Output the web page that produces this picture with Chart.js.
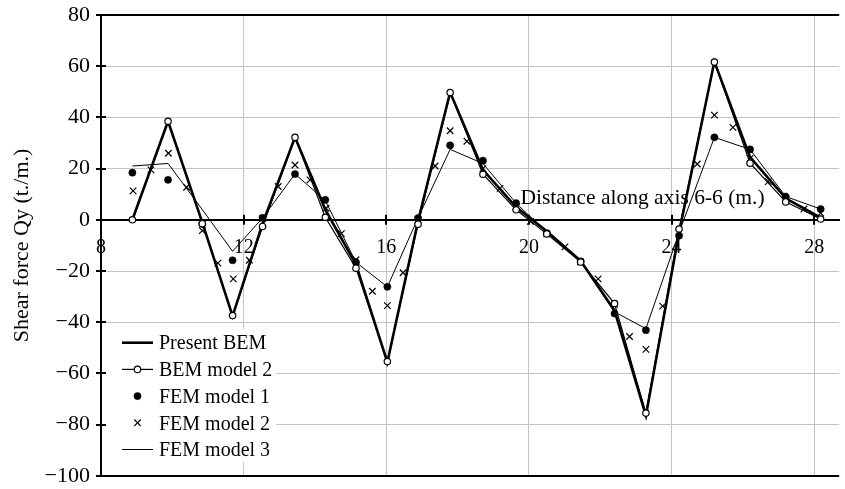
<!DOCTYPE html>
<html>
<head>
<meta charset="utf-8">
<script src="https://cdn.jsdelivr.net/npm/chart.js@4/dist/chart.umd.min.js"></script>
<style>
  html, body { margin: 0; padding: 0; background: #fff; }
  canvas { display: block; }
</style>
</head>
<body>
<canvas id="chart" width="845" height="489"></canvas>
<script>
// Stations along axis 6-6 (m.)
const stations = [8.88, 9.88, 10.84, 11.69, 12.53, 13.44, 14.29, 15.15, 16.03, 16.89, 17.79,
                  18.71, 19.64, 20.5, 21.45, 22.4, 23.28, 24.21, 25.2, 26.2, 27.2, 28.18];

// Shear force Qy (t./m.) at each station
const presentBEM = [0, 38.5, -1, -37.6, -1.5, 32.2, 4, -17.5, -55.6, -0.5, 49.8,
                    19.5, 5, -4.5, -16, -35.5, -76.5, -5, 61.8, 24.5, 8.4, 0.8];
const bemModel2  = [0, 38.5, -1.5, -37.4, -2.6, 32.2, 1.0, -18.9, -55.4, -1.7, 49.7,
                    17.8, 3.9, -5.5, -16.5, -32.7, -75.5, -3.6, 61.6, 22.1, 7.0, 0.3];
const femModel1  = [18.4, 15.6, -1.6, -15.8, 0.8, 17.9, 7.8, -16.6, -26.2, 0.7, 29.1,
                    23.1, 6.5, -5.2, -16.2, -36.6, -43.1, -6.2, 32.2, 27.5, 9.1, 4.2];
const femModel3  = [21, 22, 4, -12.3, 0.7, 17.9, 7.5, -16.6, -26.2, 0.7, 27.5,
                    22, 6.5, -5, -16, -36, -42.5, -5, 32.2, 27.5, 9.1, 4.2];

// FEM model 2 is sampled at element mid-points as well
const fem2Stations = [8.9, 9.4, 9.89, 10.4, 10.84, 11.28, 11.71, 12.16, 12.53, 12.97,
                      13.44, 13.86, 14.31, 14.74, 15.15, 15.61, 16.03, 16.47, 16.89, 17.37,
                      17.79, 18.26, 18.71, 19.19, 19.64, 20.04, 20.5, 21.01, 21.45, 21.94,
                      22.4, 22.82, 23.28, 23.75, 24.21, 24.72, 25.2, 25.72, 26.2, 26.71,
                      27.2, 27.71, 28.18];
const femModel2 = [11.3, 19.5, 26, 12.7, -4.2, -16.9, -23.1, -15.8, 0.5, 13,
                   21.4, 15.6, 4.5, -5.4, -15.6, -27.9, -33.5, -20.7, 0, 21,
                   34.8, 30.7, 20, 12.3, 5, -0.6, -5.5, -10.6, -16.5, -23.1,
                   -33, -45.6, -50.6, -33.7, -5, 21.8, 40.9, 36.1, 24, 14.9,
                   8, 4.2, 2.6];

const xTicks = [8, 12, 16, 20, 24, 28];
const yTicks = [-100, -80, -60, -40, -20, 0, 20, 40, 60, 80];

const seriesNames = ['Present BEM', 'BEM model 2', 'FEM model 1', 'FEM model 2', 'FEM model 3'];
const axisText = 'Distance along axis 6-6 (m.)';
const yTitle = 'Shear force Qy (t./m.)';

const SERIF = "'Liberation Serif', 'Times New Roman', serif";
Chart.defaults.font.family = SERIF;
Chart.defaults.font.size = 20;
Chart.defaults.color = '#000';

const toPoints = (xs, ys) => xs.map((x, i) => ({ x: x, y: ys[i] }));

// Short tick marks that cross both axes
const crossTicks = {
  id: 'crossTicks',
  afterDatasetsDraw(chart) {
    const { ctx, scales: { x, y } } = chart;
    const ax = x.getPixelForValue(x.min);
    const ay = y.getPixelForValue(0);
    ctx.save();
    ctx.strokeStyle = '#000';
    ctx.lineWidth = 2;
    ctx.beginPath();
    y.ticks.forEach(t => {
      const py = Math.round(y.getPixelForValue(t.value));
      ctx.moveTo(ax - 5, py);
      ctx.lineTo(ax + 5, py);
    });
    x.ticks.forEach(t => {
      if (t.value === x.min) return;
      const px = Math.round(x.getPixelForValue(t.value));
      ctx.moveTo(px, ay - 5);
      ctx.lineTo(px, ay + 5);
    });
    ctx.stroke();
    ctx.restore();
  }
};

// Caption for the distance axis, written just above the zero line
const axisCaption = {
  id: 'axisCaption',
  beforeDatasetsDraw(chart) {
    const { ctx, scales: { x, y } } = chart;
    ctx.save();
    ctx.font = '21.5px ' + SERIF;
    ctx.fillStyle = '#000';
    ctx.textAlign = 'left';
    ctx.textBaseline = 'alphabetic';
    ctx.fillText(axisText, x.getPixelForValue(19.76), y.getPixelForValue(6));
    ctx.restore();
  }
};

// Legend box in the lower-left corner of the plot
const insetLegend = {
  id: 'insetLegend',
  afterDatasetsDraw(chart) {
    const { ctx, chartArea: area } = chart;
    const boxL = area.left + 5, boxT = area.top + 314, boxW = 170, boxH = 133;
    ctx.save();
    ctx.fillStyle = '#fff';
    ctx.fillRect(boxL, boxT, boxW, boxH);
    const symL = area.left + 21, symR = area.left + 52, textX = area.left + 58;
    const rowY0 = area.top + 327.7, rowStep = 26.7;
    chart.data.datasets.forEach((ds, i) => {
      const cy = rowY0 + i * rowStep;
      const cx = (symL + symR) / 2;
      if (ds.showLine) {
        ctx.strokeStyle = ds.borderColor;
        ctx.lineWidth = ds.borderWidth;
        ctx.beginPath();
        ctx.moveTo(symL, cy);
        ctx.lineTo(symR, cy);
        ctx.stroke();
      }
      if (ds.pointRadius > 0) {
        ctx.fillStyle = ds.pointBackgroundColor;
        ctx.strokeStyle = ds.pointBorderColor;
        ctx.lineWidth = ds.pointBorderWidth;
        Chart.helpers.drawPoint(ctx, {
          pointStyle: ds.pointStyle, radius: ds.pointRadius,
          borderWidth: ds.pointBorderWidth, rotation: 0
        }, cx, cy);
      }
      ctx.fillStyle = '#000';
      ctx.font = '20px ' + SERIF;
      ctx.textAlign = 'left';
      ctx.textBaseline = 'alphabetic';
      ctx.fillText(ds.label, textX, cy + 6.7);
    });
    ctx.restore();
  }
};

const frameValue = v => v === 80 || v === -100 || v === 0;

new Chart(document.getElementById('chart'), {
  type: 'scatter',
  data: {
    datasets: [
      {
        label: seriesNames[0], data: toPoints(stations, presentBEM),
        showLine: true, borderColor: '#000', borderWidth: 2.6,
        pointRadius: 0, order: 2
      },
      {
        label: seriesNames[1], data: toPoints(stations, bemModel2),
        showLine: true, borderColor: '#000', borderWidth: 1.2,
        pointStyle: 'circle', pointRadius: 3.2,
        pointBackgroundColor: '#fff', pointBorderColor: '#000', pointBorderWidth: 1.2,
        order: 0
      },
      {
        label: seriesNames[2], data: toPoints(stations, femModel1),
        showLine: false, borderColor: '#000', borderWidth: 0,
        pointStyle: 'circle', pointRadius: 3.6,
        pointBackgroundColor: '#000', pointBorderColor: '#000', pointBorderWidth: 0.5,
        order: 1
      },
      {
        label: seriesNames[3], data: toPoints(fem2Stations, femModel2),
        showLine: false, borderColor: '#000', borderWidth: 0,
        pointStyle: 'crossRot', pointRadius: 4.6,
        pointBackgroundColor: '#000', pointBorderColor: '#000', pointBorderWidth: 1.2,
        order: 3
      },
      {
        label: seriesNames[4], data: toPoints(stations, femModel3),
        showLine: true, borderColor: '#000', borderWidth: 1,
        pointRadius: 0, order: 4
      }
    ]
  },
  options: {
    responsive: false,
    animation: false,
    events: [],
    layout: { padding: { top: 15, right: 0, bottom: 11, left: 0 } },
    plugins: { legend: { display: false }, tooltip: { enabled: false } },
    elements: { line: { tension: 0 } },
    scales: {
      x: {
        type: 'linear',
        position: { y: 0 },
        min: 8,
        max: 28.7,
        afterBuildTicks(scale) { scale.ticks = xTicks.map(v => ({ value: v })); },
        ticks: { padding: 16, autoSkip: false, maxRotation: 0, font: { size: 20 } },
        grid: { drawTicks: false, color: '#c4c4c4', lineWidth: 1 },
        border: { color: '#000', width: 2 }
      },
      y: {
        type: 'linear',
        position: 'left',
        min: -100,
        max: 80,
        afterBuildTicks(scale) { scale.ticks = yTicks.map(v => ({ value: v })); },
        afterFit(scale) { scale.width = 101; },
        ticks: {
          padding: 0,
          font: { size: 22 },
          callback: v => String(v).replace('-', '\u2212')
        },
        grid: {
          drawTicks: true,
          tickLength: 11,
          tickColor: 'rgba(0,0,0,0)',
          color: c => frameValue(c.tick.value) ? '#000' : '#c4c4c4',
          lineWidth: c => frameValue(c.tick.value) ? 2 : 1
        },
        border: { color: '#000', width: 2 },
        title: {
          display: true, text: yTitle,
          font: { size: 22 }, padding: { top: 9, bottom: 0 }
        }
      }
    }
  },
  plugins: [axisCaption, insetLegend, crossTicks]
});
</script>
</body>
</html>
